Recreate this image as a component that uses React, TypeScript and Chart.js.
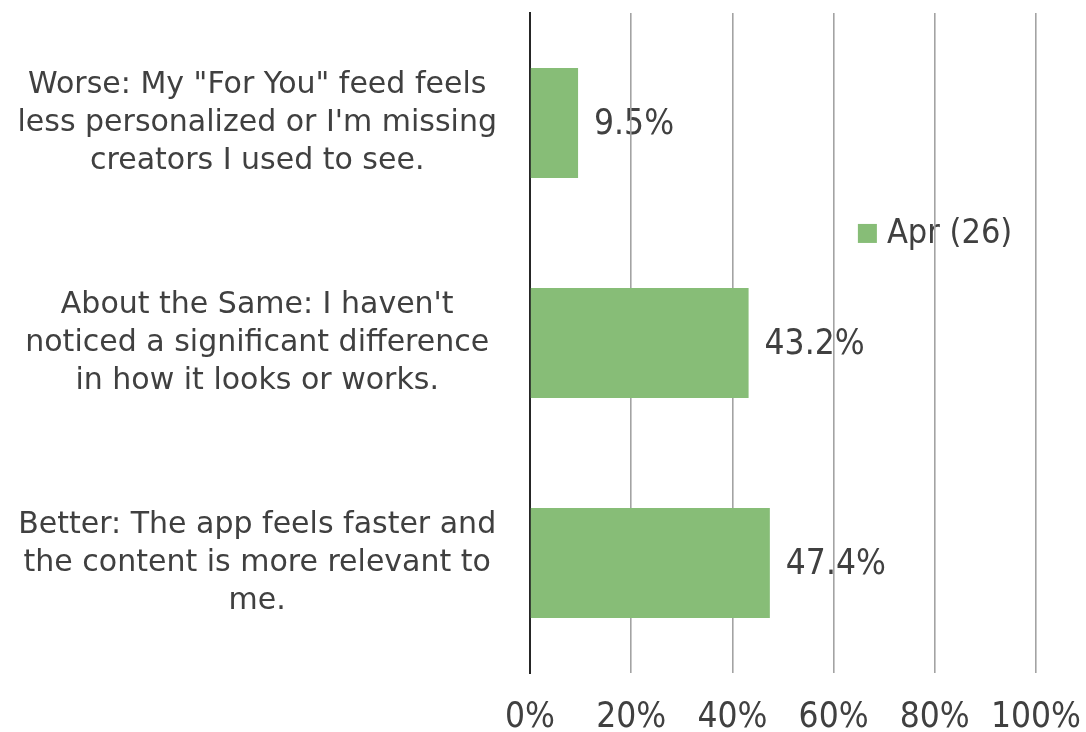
import React, { useEffect, useRef } from 'react';
import { Chart, registerables } from 'chart.js';

Chart.register(...registerables);

const categories: string[][] = [
  ['Worse: My "For You" feed feels', "less personalized or I'm missing", 'creators I used to see.'],
  ["About the Same: I haven't", 'noticed a significant difference', 'in how it looks or works.'],
  ['Better: The app feels faster and', 'the content is more relevant to', 'me.'],
];
const seriesName = 'Apr (26)';
const values: number[] = [9.5, 43.2, 47.4];
const xTicks: number[] = [0, 20, 40, 60, 80, 100];

const FONT_C = '"DejaVu Sans Condensed", "DejaVu Sans", sans-serif';
const FONT = '"DejaVu Sans", sans-serif';
const TEXT = '#404040';
const GREEN = '#87bd77';

const overlayPlugin = {
  id: 'overlayLabels',
  beforeDraw(chart: any) {
    const ctx = chart.ctx;
    const meta = chart.getDatasetMeta(0);
    const ca = chart.chartArea;
    ctx.save();
    ctx.font = `35px ${FONT_C}`;
    ctx.fillStyle = TEXT;
    ctx.textAlign = 'left';
    ctx.textBaseline = 'middle';
    meta.data.forEach((bar: any, i: number) => {
      ctx.fillText(values[i].toFixed(1) + '%', bar.x + 16, bar.y + 2);
    });
    // legend
    const lx = ca.left + (ca.right - ca.left) * 0.648;
    const ly = ca.top + (ca.bottom - ca.top) * 0.334;
    const box = 19;
    ctx.fillStyle = GREEN;
    ctx.fillRect(lx, ly - box / 2, box, box);
    ctx.fillStyle = TEXT;
    ctx.font = `34px ${FONT_C}`;
    ctx.fillText(seriesName, lx + box + 10, ly + 1);
    ctx.restore();
  },
};

export default function App() {
  const ref = useRef<HTMLCanvasElement | null>(null);
  useEffect(() => {
    if (!ref.current) return;
    const chart = new Chart(ref.current, {
      type: 'bar',
      data: {
        labels: categories,
        datasets: [
          {
            label: seriesName,
            data: values,
            backgroundColor: GREEN,
            borderWidth: 0,
            barPercentage: 0.5,
            categoryPercentage: 1,
          },
        ],
      },
      options: {
        indexAxis: 'y',
        animation: false,
        responsive: true,
        maintainAspectRatio: false,
        layout: { padding: { top: 13, right: 50, left: 0, bottom: 0 } },
        plugins: { legend: { display: false }, tooltip: { enabled: false } },
        scales: {
          x: {
            min: 0,
            max: 100,
            afterBuildTicks: (s: any) => {
              s.ticks = xTicks.map((v) => ({ value: v }));
            },
            afterFit: (s: any) => {
              s.height = 59;
              s.paddingLeft = 0;
              s.paddingRight = 0;
            },
            ticks: {
              callback: (v: any) => v + '%',
              font: { family: FONT_C, size: 35 },
              color: TEXT,
              padding: 24,
              maxRotation: 0,
              autoSkip: false,
            },
            grid: { color: '#a3a3a3', lineWidth: 1.6, drawTicks: false },
            border: { display: false },
          },
          y: {
            afterFit: (s: any) => {
              s.width = 530;
              s.paddingTop = 0;
              s.paddingBottom = 0;
            },
            ticks: {
              font: { family: FONT, size: 30, lineHeight: 1.27 },
              color: TEXT,
              crossAlign: 'center',
              padding: 33,
              autoSkip: false,
            },
            grid: { display: false, drawTicks: false },
            border: { display: true, color: '#262626', width: 2 },
          },
        },
      },
      plugins: [overlayPlugin],
    } as any);
    return () => chart.destroy();
  }, []);
  return (
    <div style={{ position: 'absolute', left: 0, top: 0, width: 1086, height: 732, background: '#fff' }}>
      <canvas ref={ref} />
    </div>
  );
}
